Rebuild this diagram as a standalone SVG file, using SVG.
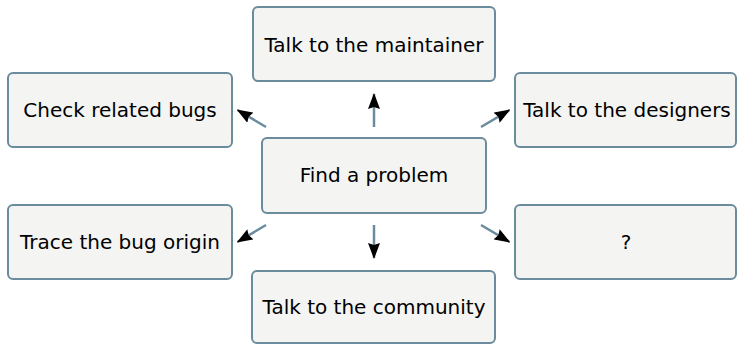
<svg xmlns="http://www.w3.org/2000/svg" width="737" height="344" viewBox="0 0 737 344">
<style>
.box{fill:#f4f4f2;stroke:#6a8c9d;stroke-width:2}
.lbl{font-family:"DejaVu Sans",sans-serif;font-size:20px;fill:#000;text-anchor:middle}
.edge{stroke:#6a8c9d;stroke-width:2.5;fill:none;marker-end:url(#ah)}
</style>
<defs>
<marker id="ah" viewBox="0 0 16 12" refX="15" refY="6" markerUnits="userSpaceOnUse" markerWidth="16" markerHeight="12" orient="auto">
<path d="M0,0 L16,6 L0,12 L2,6 Z" fill="#000"/>
</marker>
</defs>
<g id="connectors">
<line class="edge" x1="374" y1="127" x2="374" y2="94"/>
<line class="edge" x1="266" y1="127" x2="237.5" y2="110"/>
<line class="edge" x1="481" y1="127" x2="509.5" y2="110"/>
<line class="edge" x1="266" y1="225" x2="237.5" y2="242"/>
<line class="edge" x1="481" y1="225" x2="509.5" y2="242"/>
<line class="edge" x1="374" y1="225" x2="374" y2="258"/>
</g>
<g id="center">
<rect class="box" x="262" y="138" width="224" height="75" rx="5"/>
<text class="lbl" x="374" y="182">Find a problem</text>
</g>
<g id="maintainer">
<rect class="box" x="253" y="7" width="242" height="74" rx="5"/>
<text class="lbl" x="374" y="52">Talk to the maintainer</text>
</g>
<g id="related">
<rect class="box" x="8" y="73" width="224" height="74" rx="5"/>
<text class="lbl" x="120" y="117">Check related bugs</text>
</g>
<g id="designers">
<rect class="box" x="515" y="73" width="221" height="74" rx="5"/>
<text class="lbl" x="627" y="117">Talk to the designers</text>
</g>
<g id="trace">
<rect class="box" x="8" y="205" width="224" height="74" rx="5"/>
<text class="lbl" x="120" y="249">Trace the bug origin</text>
</g>
<g id="unknown">
<rect class="box" x="515" y="205" width="221" height="74" rx="5"/>
<text class="lbl" x="626" y="249">?</text>
</g>
<g id="community">
<rect class="box" x="252" y="271" width="243" height="72" rx="5"/>
<text class="lbl" x="374" y="314">Talk to the community</text>
</g>
</svg>
